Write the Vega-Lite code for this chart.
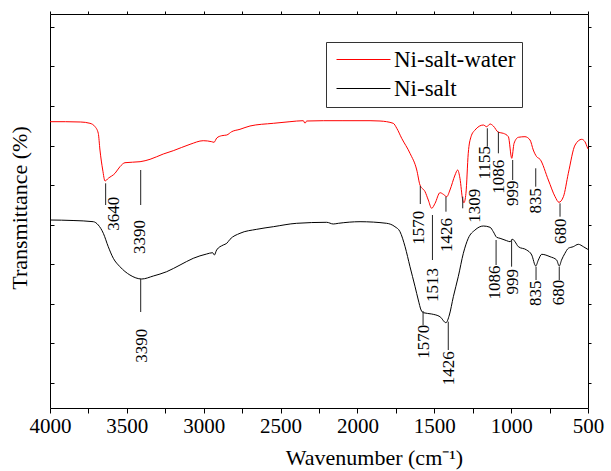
{
  "$schema": "https://vega.github.io/schema/vega-lite/v6.json",
  "width": 538,
  "height": 394,
  "autosize": "none",
  "padding": {"left": 50, "top": 14, "right": 23, "bottom": 63},
  "background": "white",
  "config": {
    "view": {"stroke": "black", "strokeWidth": 1},
    "font": "Liberation Serif",
    "axis": {"grid": false, "domainColor": "black", "tickColor": "black", "labelColor": "black", "titleColor": "black", "labelFont": "Liberation Serif", "titleFont": "Liberation Serif", "titleFontWeight": "normal"}
  },
  "datasets": {
    "spectra": [
      {"series": "Ni-salt-water", "w": 4000, "t": 286.3},
      {"series": "Ni-salt-water", "w": 3900, "t": 286.3},
      {"series": "Ni-salt-water", "w": 3800, "t": 286},
      {"series": "Ni-salt-water", "w": 3740, "t": 284.7},
      {"series": "Ni-salt-water", "w": 3707, "t": 281.3},
      {"series": "Ni-salt-water", "w": 3686, "t": 274.7},
      {"series": "Ni-salt-water", "w": 3675, "t": 258},
      {"series": "Ni-salt-water", "w": 3657, "t": 238},
      {"series": "Ni-salt-water", "w": 3642, "t": 227},
      {"series": "Ni-salt-water", "w": 3621, "t": 229.7},
      {"series": "Ni-salt-water", "w": 3577, "t": 234.7},
      {"series": "Ni-salt-water", "w": 3545, "t": 241.3},
      {"series": "Ni-salt-water", "w": 3512, "t": 245.3},
      {"series": "Ni-salt-water", "w": 3414, "t": 246.3},
      {"series": "Ni-salt-water", "w": 3349, "t": 248.7},
      {"series": "Ni-salt-water", "w": 3263, "t": 254},
      {"series": "Ni-salt-water", "w": 3198, "t": 257.3},
      {"series": "Ni-salt-water", "w": 3089, "t": 263.7},
      {"series": "Ni-salt-water", "w": 3003, "t": 267.3},
      {"series": "Ni-salt-water", "w": 2948, "t": 266.3},
      {"series": "Ni-salt-water", "w": 2933, "t": 265.7},
      {"series": "Ni-salt-water", "w": 2915, "t": 270},
      {"series": "Ni-salt-water", "w": 2883, "t": 272.3},
      {"series": "Ni-salt-water", "w": 2850, "t": 273},
      {"series": "Ni-salt-water", "w": 2818, "t": 276.3},
      {"series": "Ni-salt-water", "w": 2764, "t": 278.7},
      {"series": "Ni-salt-water", "w": 2699, "t": 282},
      {"series": "Ni-salt-water", "w": 2547, "t": 284.7},
      {"series": "Ni-salt-water", "w": 2439, "t": 286.3},
      {"series": "Ni-salt-water", "w": 2352, "t": 287.3},
      {"series": "Ni-salt-water", "w": 2341, "t": 284.7},
      {"series": "Ni-salt-water", "w": 2330, "t": 287},
      {"series": "Ni-salt-water", "w": 2222, "t": 287.3},
      {"series": "Ni-salt-water", "w": 2100, "t": 287.3},
      {"series": "Ni-salt-water", "w": 1918, "t": 287.3},
      {"series": "Ni-salt-water", "w": 1853, "t": 287},
      {"series": "Ni-salt-water", "w": 1767, "t": 284.7},
      {"series": "Ni-salt-water", "w": 1744, "t": 279.7},
      {"series": "Ni-salt-water", "w": 1712, "t": 269.7},
      {"series": "Ni-salt-water", "w": 1658, "t": 254.7},
      {"series": "Ni-salt-water", "w": 1614, "t": 238},
      {"series": "Ni-salt-water", "w": 1593, "t": 223},
      {"series": "Ni-salt-water", "w": 1560, "t": 216.3},
      {"series": "Ni-salt-water", "w": 1539, "t": 208},
      {"series": "Ni-salt-water", "w": 1517, "t": 199.7},
      {"series": "Ni-salt-water", "w": 1495, "t": 204.7},
      {"series": "Ni-salt-water", "w": 1463, "t": 215.3},
      {"series": "Ni-salt-water", "w": 1441, "t": 213.7},
      {"series": "Ni-salt-water", "w": 1419, "t": 211.3},
      {"series": "Ni-salt-water", "w": 1398, "t": 218},
      {"series": "Ni-salt-water", "w": 1365, "t": 233},
      {"series": "Ni-salt-water", "w": 1348, "t": 238},
      {"series": "Ni-salt-water", "w": 1333, "t": 229.7},
      {"series": "Ni-salt-water", "w": 1315, "t": 208},
      {"series": "Ni-salt-water", "w": 1307, "t": 205.3},
      {"series": "Ni-salt-water", "w": 1294, "t": 214.7},
      {"series": "Ni-salt-water", "w": 1279, "t": 254.7},
      {"series": "Ni-salt-water", "w": 1261, "t": 271.3},
      {"series": "Ni-salt-water", "w": 1235, "t": 278},
      {"series": "Ni-salt-water", "w": 1181, "t": 283},
      {"series": "Ni-salt-water", "w": 1159, "t": 281.3},
      {"series": "Ni-salt-water", "w": 1137, "t": 284},
      {"series": "Ni-salt-water", "w": 1116, "t": 282},
      {"series": "Ni-salt-water", "w": 1083, "t": 275.7},
      {"series": "Ni-salt-water", "w": 1051, "t": 274.7},
      {"series": "Ni-salt-water", "w": 1018, "t": 271.3},
      {"series": "Ni-salt-water", "w": 996, "t": 249.7},
      {"series": "Ni-salt-water", "w": 981, "t": 264.7},
      {"series": "Ni-salt-water", "w": 953, "t": 270.7},
      {"series": "Ni-salt-water", "w": 910, "t": 271.3},
      {"series": "Ni-salt-water", "w": 877, "t": 268},
      {"series": "Ni-salt-water", "w": 856, "t": 258},
      {"series": "Ni-salt-water", "w": 834, "t": 251.3},
      {"series": "Ni-salt-water", "w": 812, "t": 248.7},
      {"series": "Ni-salt-water", "w": 758, "t": 228},
      {"series": "Ni-salt-water", "w": 714, "t": 211.3},
      {"series": "Ni-salt-water", "w": 689, "t": 205.7},
      {"series": "Ni-salt-water", "w": 660, "t": 211.3},
      {"series": "Ni-salt-water", "w": 628, "t": 234.7},
      {"series": "Ni-salt-water", "w": 584, "t": 263},
      {"series": "Ni-salt-water", "w": 541, "t": 268.7},
      {"series": "Ni-salt-water", "w": 520, "t": 266.3},
      {"series": "Ni-salt-water", "w": 502, "t": 259.7},
      {"series": "Ni-salt-water", "w": 500, "t": 259},
      {"series": "Ni-salt", "w": 4000, "t": 188},
      {"series": "Ni-salt", "w": 3850, "t": 187.5},
      {"series": "Ni-salt", "w": 3718, "t": 186.3},
      {"series": "Ni-salt", "w": 3686, "t": 183},
      {"series": "Ni-salt", "w": 3653, "t": 174.7},
      {"series": "Ni-salt", "w": 3621, "t": 161.3},
      {"series": "Ni-salt", "w": 3588, "t": 149.7},
      {"series": "Ni-salt", "w": 3545, "t": 141.3},
      {"series": "Ni-salt", "w": 3480, "t": 133},
      {"series": "Ni-salt", "w": 3403, "t": 129},
      {"series": "Ni-salt", "w": 3328, "t": 132},
      {"series": "Ni-salt", "w": 3241, "t": 136.3},
      {"series": "Ni-salt", "w": 3154, "t": 143},
      {"series": "Ni-salt", "w": 3068, "t": 149.7},
      {"series": "Ni-salt", "w": 2981, "t": 154},
      {"series": "Ni-salt", "w": 2942, "t": 155.3},
      {"series": "Ni-salt", "w": 2931, "t": 153},
      {"series": "Ni-salt", "w": 2916, "t": 158},
      {"series": "Ni-salt", "w": 2873, "t": 163},
      {"series": "Ni-salt", "w": 2850, "t": 164.7},
      {"series": "Ni-salt", "w": 2829, "t": 168.7},
      {"series": "Ni-salt", "w": 2764, "t": 174.7},
      {"series": "Ni-salt", "w": 2655, "t": 178.7},
      {"series": "Ni-salt", "w": 2547, "t": 181.3},
      {"series": "Ni-salt", "w": 2395, "t": 184.7},
      {"series": "Ni-salt", "w": 2200, "t": 185.7},
      {"series": "Ni-salt", "w": 2157, "t": 184},
      {"series": "Ni-salt", "w": 2124, "t": 184.7},
      {"series": "Ni-salt", "w": 1983, "t": 186.3},
      {"series": "Ni-salt", "w": 1810, "t": 184.7},
      {"series": "Ni-salt", "w": 1756, "t": 181.3},
      {"series": "Ni-salt", "w": 1723, "t": 176.3},
      {"series": "Ni-salt", "w": 1690, "t": 161.3},
      {"series": "Ni-salt", "w": 1658, "t": 141.3},
      {"series": "Ni-salt", "w": 1625, "t": 121.3},
      {"series": "Ni-salt", "w": 1604, "t": 108},
      {"series": "Ni-salt", "w": 1586, "t": 98},
      {"series": "Ni-salt", "w": 1571, "t": 95.3},
      {"series": "Ni-salt", "w": 1517, "t": 94},
      {"series": "Ni-salt", "w": 1463, "t": 91.3},
      {"series": "Ni-salt", "w": 1424, "t": 85.3},
      {"series": "Ni-salt", "w": 1402, "t": 93},
      {"series": "Ni-salt", "w": 1376, "t": 111.3},
      {"series": "Ni-salt", "w": 1344, "t": 131.3},
      {"series": "Ni-salt", "w": 1311, "t": 154.7},
      {"series": "Ni-salt", "w": 1279, "t": 169.7},
      {"series": "Ni-salt", "w": 1235, "t": 178},
      {"series": "Ni-salt", "w": 1181, "t": 182},
      {"series": "Ni-salt", "w": 1137, "t": 180.7},
      {"series": "Ni-salt", "w": 1116, "t": 176.3},
      {"series": "Ni-salt", "w": 1094, "t": 170.7},
      {"series": "Ni-salt", "w": 1072, "t": 169.7},
      {"series": "Ni-salt", "w": 1029, "t": 167.3},
      {"series": "Ni-salt", "w": 1007, "t": 166.3},
      {"series": "Ni-salt", "w": 990, "t": 168.7},
      {"series": "Ni-salt", "w": 975, "t": 166.3},
      {"series": "Ni-salt", "w": 953, "t": 161.3},
      {"series": "Ni-salt", "w": 899, "t": 158},
      {"series": "Ni-salt", "w": 866, "t": 153},
      {"series": "Ni-salt", "w": 840, "t": 142},
      {"series": "Ni-salt", "w": 823, "t": 148},
      {"series": "Ni-salt", "w": 801, "t": 153.7},
      {"series": "Ni-salt", "w": 747, "t": 151.3},
      {"series": "Ni-salt", "w": 704, "t": 148},
      {"series": "Ni-salt", "w": 687, "t": 142},
      {"series": "Ni-salt", "w": 672, "t": 148},
      {"series": "Ni-salt", "w": 650, "t": 154.7},
      {"series": "Ni-salt", "w": 628, "t": 159.7},
      {"series": "Ni-salt", "w": 596, "t": 161.3},
      {"series": "Ni-salt", "w": 563, "t": 163.7},
      {"series": "Ni-salt", "w": 530, "t": 161.3},
      {"series": "Ni-salt", "w": 502, "t": 158.7},
      {"series": "Ni-salt", "w": 500, "t": 158.5}
    ],
    "ann": [
      {"w": 3638, "t1": 224.7, "t2": 203, "tw": 3584, "tt": 194.3, "label": "3640"},
      {"w": 3410, "t1": 238, "t2": 203, "tw": 3413, "tt": 171, "label": "3390"},
      {"w": 1591, "t1": 222, "t2": 204, "tw": 1598, "tt": 180.2, "label": "1570"},
      {"w": 1512, "t1": 193, "t2": 148, "tw": 1507, "tt": 123, "label": "1513"},
      {"w": 1424, "t1": 211.3, "t2": 196.3, "tw": 1416, "tt": 173, "label": "1426"},
      {"w": 1315, "t1": 211.3, "t2": 199.7, "tw": 1235, "tt": 202.2, "label": "1309"},
      {"w": 1155, "t1": 279.7, "t2": 261.3, "tw": 1172, "tt": 245.2, "label": "1155"},
      {"w": 1083, "t1": 276.3, "t2": 254.7, "tw": 1080, "tt": 231.3, "label": "1086"},
      {"w": 990, "t1": 248, "t2": 228, "tw": 988, "tt": 214.7, "label": "999"},
      {"w": 840, "t1": 239.7, "t2": 221.3, "tw": 836, "tt": 207.2, "label": "835"},
      {"w": 682, "t1": 204.7, "t2": 191.3, "tw": 677, "tt": 176.8, "label": "680"},
      {"w": 3410, "t1": 129, "t2": 96, "tw": 3401, "tt": 62.2, "label": "3390"},
      {"w": 1573, "t1": 97, "t2": 83, "tw": 1570, "tt": 66.3, "label": "1570"},
      {"w": 1409, "t1": 86.3, "t2": 58, "tw": 1404, "tt": 39.7, "label": "1426"},
      {"w": 1098, "t1": 168, "t2": 143, "tw": 1105, "tt": 125.5, "label": "1086"},
      {"w": 997, "t1": 168.7, "t2": 141.3, "tw": 991, "tt": 126.3, "label": "999"},
      {"w": 838, "t1": 141.3, "t2": 128, "tw": 836, "tt": 114.7, "label": "835"},
      {"w": 687, "t1": 141.3, "t2": 128, "tw": 691, "tt": 115.5, "label": "680"}
    ]
  },
  "resolve": {"axis": {"x": "independent", "y": "independent"}},
  "layer": [
    {
      "data": {"name": "spectra"},
      "mark": {"type": "line", "strokeWidth": 1, "interpolate": "monotone"},
      "encoding": {
        "x": {
          "field": "w", "type": "quantitative",
          "scale": {"domain": [500, 4000], "reverse": true, "nice": false, "zero": false},
          "axis": {
            "orient": "bottom",
            "values": [4000, 3750, 3500, 3250, 3000, 2750, 2500, 2250, 2000, 1750, 1500, 1250, 1000, 750, 500],
            "labelExpr": "datum.value % 500 === 0 ? datum.label : ''",
            "format": "d",
            "labelFlush": false,
            "labelOverlap": false,
            "labelFontSize": 21,
            "labelDx": 6,
            "labelPadding": 2,
            "tickSize": 5,
            "domain": false,
            "title": "Wavenumber (cm⁻¹)",
            "titleFontSize": 22,
            "titleX": 324,
            "titleY": 56,
            "titleAlign": "center",
            "titleBaseline": "alphabetic"
          }
        },
        "y": {
          "field": "t", "type": "quantitative",
          "scale": {"domain": [0, 394], "nice": false, "zero": false},
          "axis": {
            "orient": "left",
            "values": [25.5, 65, 104.5, 144, 183.5, 223, 262.5, 302, 341.5, 381],
            "labels": false,
            "tickSize": -4,
            "domain": false,
            "title": "Transmittance (%)",
            "titleFontSize": 22,
            "titleX": -24,
            "titleY": 193.5,
            "titleAngle": -90,
            "titleAlign": "center",
            "titleBaseline": "alphabetic"
          }
        },
        "color": {
          "field": "series", "type": "nominal",
          "scale": {"domain": ["Ni-salt-water", "Ni-salt"], "range": ["#ff0000", "#000000"]},
          "legend": {
            "orient": "none", "legendX": 276, "legendY": 28, "title": null,
            "symbolType": "M-4,0H4", "symbolSize": 182, "symbolStrokeWidth": 1,
            "labelFontSize": 23, "labelFont": "Liberation Serif", "labelColor": "black",
            "strokeColor": "#333", "fillColor": "white", "padding": 6,
            "rowPadding": 5, "labelOffset": 19, "symbolOffset": 20
          }
        }
      }
    },
    {
      "data": {"name": "spectra"},
      "mark": {"type": "line", "opacity": 0},
      "encoding": {
        "x": {
          "field": "w", "type": "quantitative",
          "axis": {"orient": "top", "values": [4000, 3750, 3500, 3250, 3000, 2750, 2500, 2250, 2000, 1750, 1500, 1250, 1000, 750, 500], "labels": false, "tickSize": 3, "domain": false, "title": null}
        },
        "y": {
          "field": "t", "type": "quantitative",
          "axis": {"orient": "right", "values": [25.5, 65, 104.5, 144, 183.5, 223, 262.5, 302, 341.5, 381], "labels": false, "tickSize": 3, "domain": false, "title": null}
        }
      }
    },
    {
      "data": {"name": "ann"},
      "mark": {"type": "rule", "color": "#222", "strokeWidth": 1},
      "encoding": {
        "x": {"field": "w", "type": "quantitative", "axis": null},
        "y": {"field": "t1", "type": "quantitative", "axis": null},
        "y2": {"field": "t2"}
      }
    },
    {
      "data": {"name": "ann"},
      "mark": {"type": "text", "angle": 270, "align": "center", "baseline": "middle", "font": "Liberation Serif", "fontSize": 17, "color": "black"},
      "encoding": {
        "x": {"field": "tw", "type": "quantitative", "axis": null},
        "y": {"field": "tt", "type": "quantitative", "axis": null},
        "text": {"field": "label", "type": "nominal"}
      }
    }
  ]
}
